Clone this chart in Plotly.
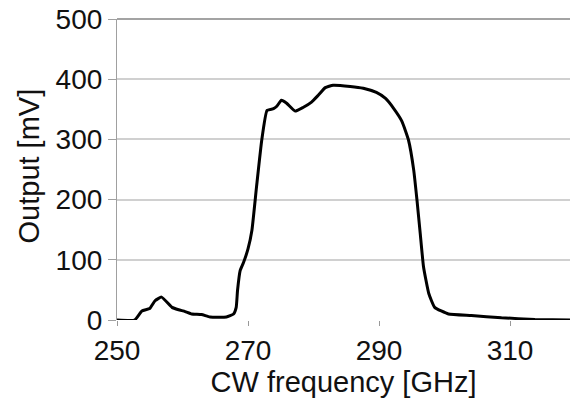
import plotly.graph_objects as go

freq_ghz = [250, 252.7, 253.8, 255.0, 255.8, 256.8, 258.4, 259.4, 260.4, 261.4, 262.9,
            264.2, 266.7, 267.8, 268.2, 268.4, 268.8, 269.3, 270.0, 270.6, 271.3, 272.1,
            272.9, 273.9, 274.4, 275.1, 275.9, 277.2, 278.4, 279.7, 280.7, 281.8, 283.0,
            285.6, 287.6, 289.6, 291.0, 292.2, 293.5, 294.5, 295.3, 295.8, 296.3, 296.8,
            297.6, 298.5, 300.6, 304.1, 308.7, 313.8, 319.2]
output_mv = [0, 0, 15, 19, 32, 38, 21, 17, 14, 10, 9,
             5, 5, 10, 21, 49, 82, 95, 118, 149, 221, 299,
             348, 351, 355, 365, 360, 347, 353, 362, 373, 386, 390,
             388, 385, 378, 368, 352, 330, 299, 249, 199, 143, 88,
             44, 21, 10, 7.5, 3.7, 1, 0]

x_ticks = [250, 270, 290, 310]
y_ticks = [0, 100, 200, 300, 400, 500]

fig = go.Figure(go.Scatter(x=freq_ghz, y=output_mv, mode="lines",
                           line=dict(color="black", width=3, shape="spline", smoothing=0.4)))

font = "Liberation Sans, Arial, sans-serif"
fig.update_layout(
    width=570, height=407,
    margin=dict(l=117, r=0, t=19, b=87),
    paper_bgcolor="white", plot_bgcolor="white",
    showlegend=False,
    font=dict(family=font, size=28, color="#111111"),
    shapes=[dict(type="line", xref="paper", yref="paper", x0=0, x1=1, y0=1, y1=1,
                 line=dict(color="#a3a3a3", width=2), layer="below")],
    annotations=[dict(text="Output [mV]", xref="paper", yref="paper",
                      x=-88 / 453, y=0.51, xanchor="center", yanchor="middle",
                      textangle=-90, showarrow=False, font=dict(size=29))],
)
fig.update_xaxes(
    range=[250, 319.16], tickvals=x_ticks, ticktext=[str(v) for v in x_ticks],
    showgrid=False, zeroline=False, showline=False,
    ticks="outside", ticklen=5, tickcolor="#999999", tickwidth=1,
    tickfont=dict(size=28),
    title=dict(text="CW frequency [GHz]", font=dict(size=29), standoff=3),
)
fig.update_yaxes(
    range=[0, 500], tickvals=y_ticks, ticktext=[str(v) for v in y_ticks],
    showgrid=True, gridcolor="#d0d0d0", gridwidth=1.5, zeroline=False,
    showline=True, linecolor="#a0a0a0", linewidth=1.2,
    ticks="outside", ticklen=8, tickcolor="#a0a0a0", tickwidth=1,
    tickfont=dict(size=28),
)
fig.write_html("out.html", config={"displayModeBar": False},
               post_script="document.body.style.margin='0';document.body.style.overflow='hidden';")
